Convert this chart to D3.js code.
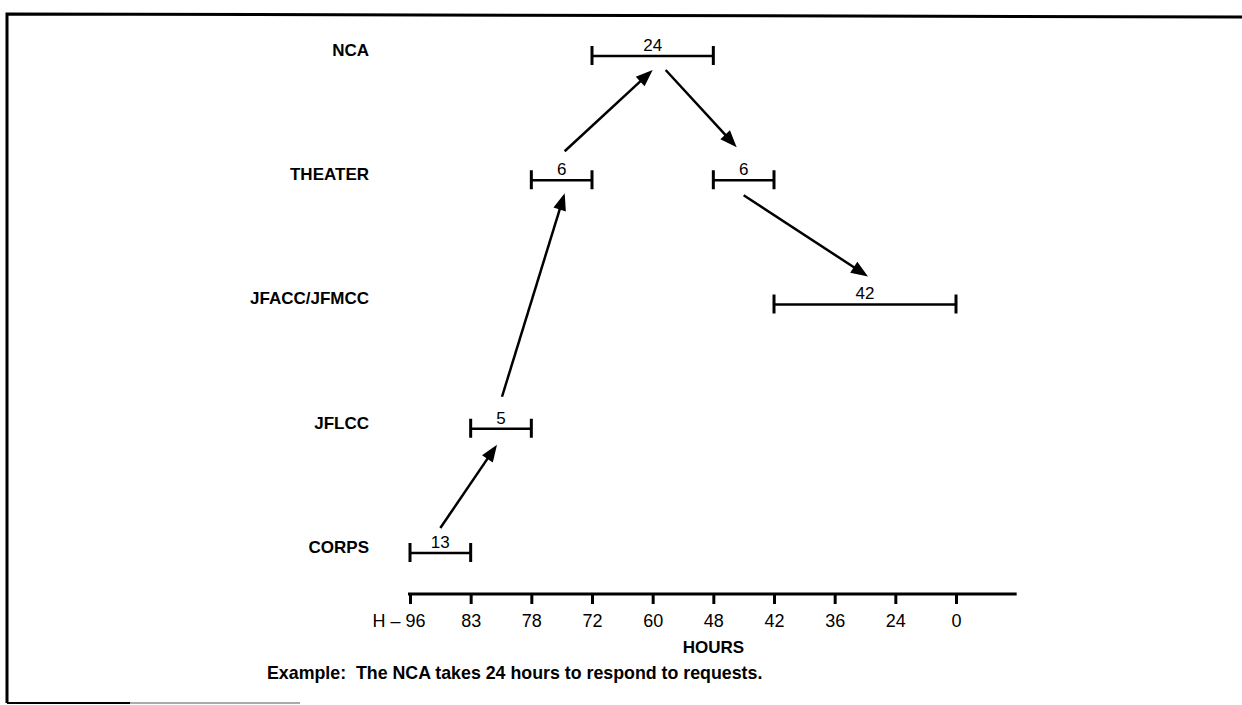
<!DOCTYPE html>
<html>
<head>
<meta charset="utf-8">
<title>Response timeline</title>
<script src="https://d3js.org/d3.v7.min.js"></script>
<style>
  body { margin: 0; background: #fff; }
  text { font-family: "Liberation Sans", Arial, sans-serif; fill: #000; }
</style>
</head>
<body>
<div id="chart"></div>
<script>
  // axis ticks (hours before H), levels top to bottom
  const hourTicks = [96, 83, 78, 72, 60, 48, 42, 36, 24, 0];
  const levels = ['NCA', 'THEATER', 'JFACC/JFMCC', 'JFLCC', 'CORPS'];

  // each step of the request chain
  const stepLevel = ['CORPS', 'JFLCC', 'THEATER', 'NCA', 'THEATER', 'JFACC/JFMCC'];
  const stepStart = [96, 83, 78, 72, 48, 42];
  const stepEnd = [83, 78, 72, 48, 42, 0];
  const stepHours = [13, 5, 6, 24, 6, 42];

  // arrows go from one step to the next
  const flowFrom = [0, 1, 2, 3, 4];
  const flowTo = [1, 2, 3, 4, 5];

  const W = 1242, H = 705;
  const svg = d3.select('#chart').append('svg')
    .attr('width', W)
    .attr('height', H);

  // frame (top, left and a short bit of the bottom)
  svg.append('path')
    .attr('d', 'M7,703 L7,14 L1242,17')
    .attr('fill', 'none')
    .attr('stroke', '#000')
    .attr('stroke-width', 3);
  svg.append('line')
    .attr('x1', 7).attr('x2', 130).attr('y1', 703).attr('y2', 703)
    .attr('stroke', '#000').attr('stroke-width', 2);
  svg.append('line')
    .attr('x1', 130).attr('x2', 300).attr('y1', 703).attr('y2', 703)
    .attr('stroke', '#aaa').attr('stroke-width', 2);

  const x = d3.scalePoint().domain(hourTicks).range([410, 956]);
  const y = d3.scalePoint().domain(levels).range([56, 553]);
  const step = x.step();

  // level names
  svg.selectAll('.level')
    .data(levels)
    .enter()
    .append('text')
    .attr('class', 'level')
    .attr('x', 369)
    .attr('y', d => y(d) - 6)
    .attr('dy', '0.35em')
    .attr('text-anchor', 'end')
    .attr('font-size', '17px')
    .attr('font-weight', 'bold')
    .text(d => d);

  // interval bars
  const steps = stepLevel.map((lv, i) => ({
    level: lv, start: stepStart[i], end: stepEnd[i], hours: stepHours[i]
  }));

  const bars = svg.selectAll('.step')
    .data(steps)
    .enter()
    .append('g')
    .attr('class', 'step');

  bars.append('line')
    .attr('x1', d => x(d.start))
    .attr('x2', d => x(d.end))
    .attr('y1', d => y(d.level))
    .attr('y2', d => y(d.level))
    .attr('stroke', '#000')
    .attr('stroke-width', 2.5);

  bars.selectAll('.cap')
    .data(d => [{ x: x(d.start), y: y(d.level) }, { x: x(d.end), y: y(d.level) }])
    .enter()
    .append('line')
    .attr('x1', d => d.x).attr('x2', d => d.x)
    .attr('y1', d => d.y - 10).attr('y2', d => d.y + 9)
    .attr('stroke', '#000')
    .attr('stroke-width', 3);

  bars.append('text')
    .attr('x', d => (x(d.start) + x(d.end)) / 2)
    .attr('y', d => y(d.level) - 11)
    .attr('dy', '0.35em')
    .attr('text-anchor', 'middle')
    .attr('font-size', '17px')
    .text(d => d.hours);

  // arrows, anchored on the bar centres
  const mid = i => (x(steps[i].start) + x(steps[i].end)) / 2;
  const lvY = i => y(steps[i].level);
  // small nudges so arrows clear the labels, [sx, sy, ex, ey]
  const nudge = [
    [0, -25, -4, 16],
    [1, -32, 3, 13],
    [3, -29, 0, 14],
    [13, 14, -7, -33],
    [0, 15, 3, -28]
  ];

  const arrows = flowFrom.map((f, k) => {
    const t = flowTo[k];
    const n = nudge[k];
    return { x1: mid(f) + n[0], y1: lvY(f) + n[1], x2: mid(t) + n[2], y2: lvY(t) + n[3] };
  });

  const headLen = 17, headHalf = 6.5;
  const ag = svg.selectAll('.arrow')
    .data(arrows)
    .enter()
    .append('g')
    .attr('class', 'arrow');

  ag.append('line')
    .attr('x1', d => d.x1)
    .attr('y1', d => d.y1)
    .attr('x2', d => {
      const L = Math.hypot(d.x2 - d.x1, d.y2 - d.y1);
      return d.x2 - (d.x2 - d.x1) / L * (headLen - 2);
    })
    .attr('y2', d => {
      const L = Math.hypot(d.x2 - d.x1, d.y2 - d.y1);
      return d.y2 - (d.y2 - d.y1) / L * (headLen - 2);
    })
    .attr('stroke', '#000')
    .attr('stroke-width', 2.5);

  ag.append('polygon')
    .attr('points', d => {
      const L = Math.hypot(d.x2 - d.x1, d.y2 - d.y1);
      const ux = (d.x2 - d.x1) / L, uy = (d.y2 - d.y1) / L;
      const bx = d.x2 - ux * headLen, by = d.y2 - uy * headLen;
      return [
        [d.x2, d.y2],
        [bx - uy * headHalf, by + ux * headHalf],
        [bx + uy * headHalf, by - ux * headHalf]
      ].map(p => p.join(',')).join(' ');
    })
    .attr('fill', '#000');

  // bottom axis
  const axisY = 594;
  const axis = svg.append('g')
    .attr('transform', 'translate(0,' + axisY + ')')
    .call(d3.axisBottom(x)
      .tickSize(10)
      .tickPadding(10)
      .tickFormat(d => d === 96 ? 'H \u2013 96' : d));

  axis.select('.domain').remove();
  axis.selectAll('.tick line')
    .attr('stroke', '#000')
    .attr('stroke-width', 3);
  axis.selectAll('.tick text')
    .attr('font-size', '18px')
    .attr('font-family', '"Liberation Sans", Arial, sans-serif')
    .attr('fill', '#000');
  axis.selectAll('.tick text')
    .filter(d => d === 96)
    .attr('text-anchor', 'end')
    .attr('x', 15);

  axis.append('line')
    .attr('x1', x(96) - 2)
    .attr('x2', x(0) + step)
    .attr('y1', 0).attr('y2', 0)
    .attr('stroke', '#000')
    .attr('stroke-width', 3);

  svg.append('text')
    .attr('x', (x(96) + x(0) + step) / 2)
    .attr('y', 647)
    .attr('dy', '0.35em')
    .attr('text-anchor', 'middle')
    .attr('font-size', '17px')
    .attr('font-weight', 'bold')
    .text('HOURS');

  svg.append('text')
    .attr('x', 267)
    .attr('y', 673)
    .attr('dy', '0.35em')
    .attr('font-size', '17.8px')
    .attr('font-weight', 'bold')
    .attr('xml:space', 'preserve')
    .style('white-space', 'pre')
    .text('Example:  The NCA takes 24 hours to respond to requests.');
</script>
</body>
</html>
